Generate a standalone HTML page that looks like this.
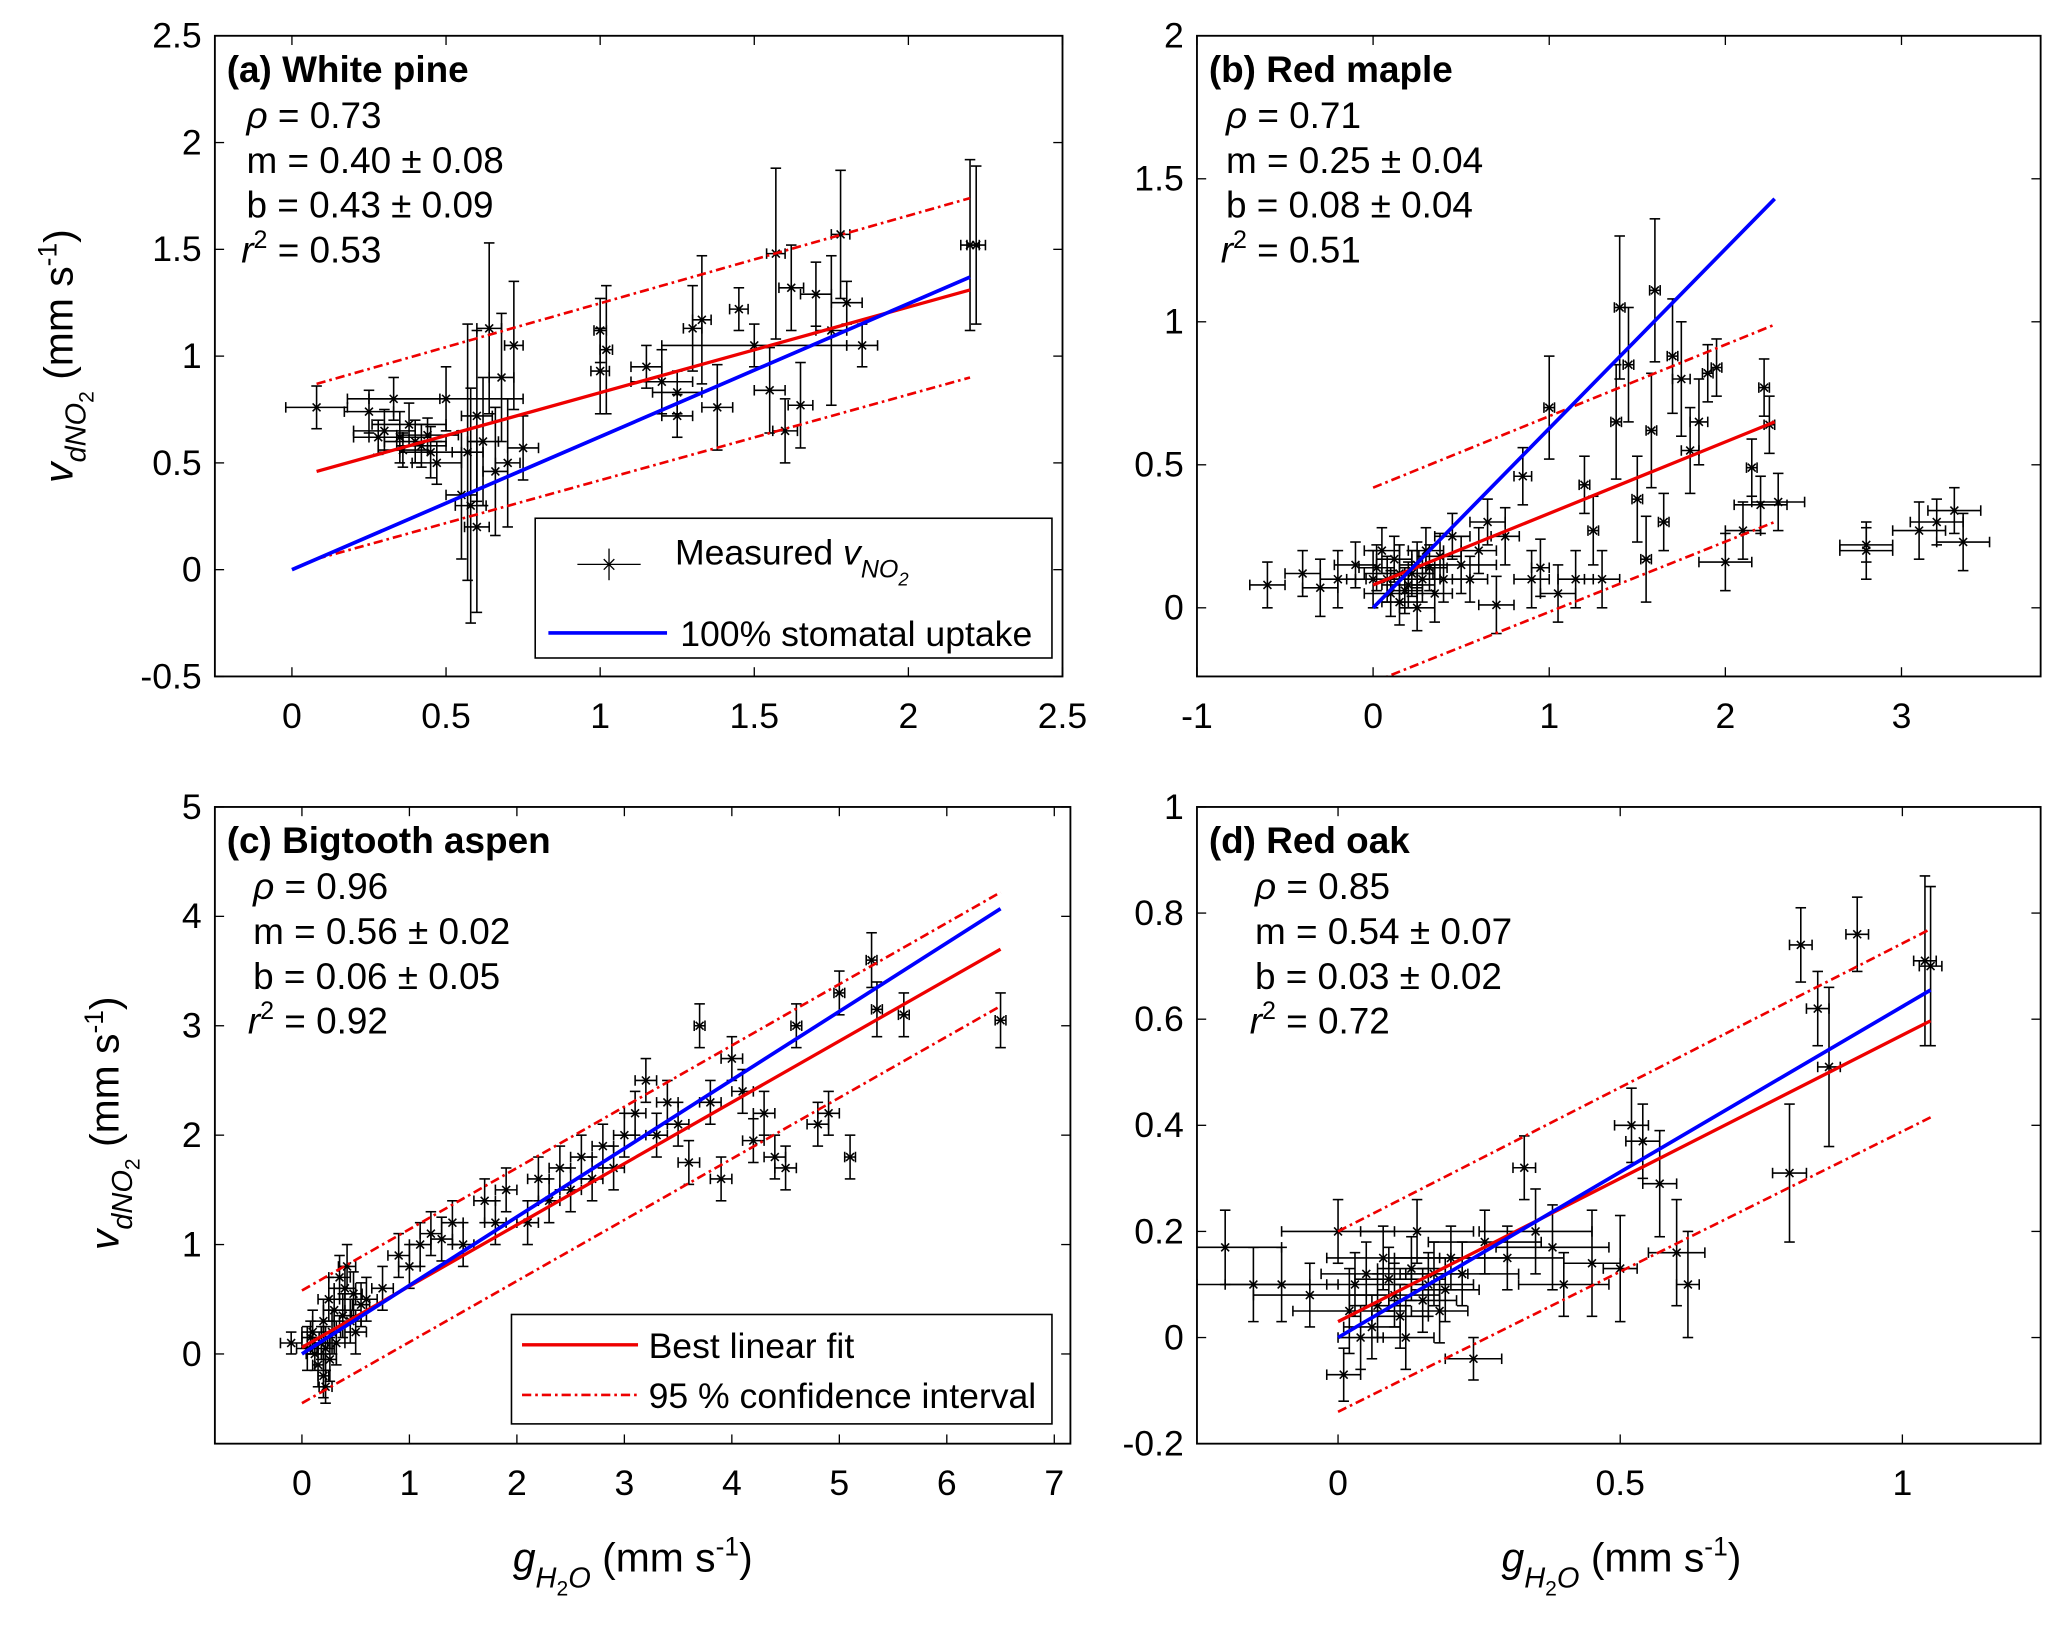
<!DOCTYPE html>
<html><head><meta charset="utf-8">
<style>
html,body{margin:0;padding:0;background:#fff;}
svg{display:block;font-family:"Liberation Sans",Arial,sans-serif;}
</style></head>
<body>
<svg id="fig" width="2067" height="1635" viewBox="0 0 1568 1240" xmlns="http://www.w3.org/2000/svg">
<rect width="1568" height="1240" fill="#fff"/>
<g id="root"></g>
</svg>
<script>
// ---- data (x, y, xerr, yerr) ----
const ptsA = [[0.08,0.76,0.1,0.1],[0.25,0.74,0.08,0.1],[0.3,0.65,0.1,0.1],[0.35,0.62,0.1,0.12],[0.38,0.68,0.12,0.1],[0.4,0.6,0.1,0.1],[0.42,0.58,0.08,0.1],[0.45,0.55,0.1,0.12],[0.47,0.5,0.08,0.1],[0.33,0.8,0.15,0.1],[0.5,0.8,0.25,0.15],[0.28,0.62,0.08,0.08],[0.36,0.56,0.08,0.08],[0.44,0.63,0.1,0.08],[0.55,0.35,0.05,0.3],[0.57,0.55,0.05,0.6],[0.58,0.3,0.05,0.55],[0.6,0.2,0.04,0.4],[0.6,0.72,0.05,0.4],[0.62,0.6,0.05,0.3],[0.64,1.13,0.04,0.4],[0.66,0.46,0.04,0.3],[0.68,0.9,0.04,0.3],[0.7,0.5,0.04,0.3],[0.72,1.05,0.03,0.3],[0.75,0.57,0.05,0.15],[1.0,1.12,0.02,0.15],[1.0,0.93,0.03,0.2],[1.02,1.03,0.02,0.3],[1.15,0.95,0.05,0.1],[1.2,0.88,0.1,0.15],[1.25,0.83,0.08,0.1],[1.25,0.72,0.05,0.1],[1.3,1.13,0.03,0.2],[1.33,1.17,0.03,0.3],[1.38,0.76,0.05,0.2],[1.45,1.22,0.03,0.1],[1.5,1.05,0.3,0.1],[1.55,0.84,0.05,0.2],[1.57,1.48,0.03,0.4],[1.6,0.65,0.04,0.15],[1.62,1.32,0.04,0.2],[1.65,0.77,0.04,0.2],[1.7,1.29,0.05,0.15],[1.75,1.12,0.05,0.35],[1.78,1.57,0.03,0.3],[1.8,1.25,0.05,0.1],[1.85,1.05,0.05,0.1],[2.2,1.52,0.03,0.4],[2.22,1.52,0.03,0.37]];
const ptsB = [[-0.6,0.08,0.1,0.08],[-0.4,0.12,0.1,0.08],[-0.3,0.07,0.1,0.1],[-0.2,0.1,0.1,0.1],[-0.1,0.15,0.12,0.08],[0,0.1,0.15,0.1],[0.05,0.2,0.1,0.08],[0.1,0.05,0.15,0.08],[0.15,0.12,0.2,0.1],[0.2,0.08,0.15,0.08],[0.25,0.15,0.1,0.08],[0.3,0.2,0.1,0.08],[0.35,0.05,0.1,0.1],[0.4,0.1,0.15,0.08],[0.45,0.25,0.1,0.08],[0.5,0.15,0.2,0.1],[0.55,0.1,0.1,0.08],[0.6,0.2,0.1,0.08],[0.65,0.3,0.1,0.08],[0.7,0.01,0.1,0.1],[0.75,0.25,0.08,0.1],[0.02,0.14,0.1,0.08],[0.08,0.1,0.12,0.08],[0.12,0.17,0.1,0.08],[0.18,0.06,0.1,0.08],[0.22,0.12,0.12,0.08],[0.28,0.1,0.1,0.08],[0.32,0.14,0.1,0.08],[0.38,0.18,0.12,0.08],[0.15,0.02,0.1,0.08],[0.25,0.0,0.1,0.08],[0.85,0.46,0.05,0.1],[0.9,0.1,0.1,0.1],[0.95,0.14,0.05,0.1],[1.0,0.7,0.03,0.18],[1.05,0.05,0.1,0.1],[1.15,0.1,0.1,0.1],[1.2,0.43,0.03,0.1],[1.25,0.27,0.03,0.12],[1.3,0.1,0.1,0.1],[1.4,1.05,0.03,0.25],[1.38,0.65,0.03,0.2],[1.45,0.85,0.03,0.2],[1.5,0.38,0.03,0.15],[1.55,0.17,0.03,0.15],[1.58,0.62,0.03,0.2],[1.6,1.11,0.03,0.25],[1.65,0.3,0.03,0.1],[1.7,0.88,0.03,0.2],[1.75,0.8,0.05,0.2],[1.8,0.55,0.05,0.15],[1.85,0.65,0.05,0.15],[1.9,0.82,0.03,0.1],[1.95,0.84,0.03,0.1],[2.0,0.16,0.15,0.1],[2.1,0.27,0.1,0.1],[2.15,0.49,0.03,0.1],[2.2,0.36,0.15,0.1],[2.22,0.77,0.03,0.1],[2.25,0.64,0.03,0.1],[2.3,0.37,0.15,0.1],[2.8,0.2,0.15,0.1],[2.8,0.22,0.15,0.06],[3.1,0.27,0.15,0.1],[3.2,0.3,0.15,0.08],[3.3,0.34,0.15,0.08],[3.35,0.23,0.15,0.1]];
const ptsC = [[-0.1,0.1,0.1,0.1],[0.05,0.05,0.1,0.2],[0.1,0.2,0.1,0.2],[0.15,-0.1,0.05,0.2],[0.2,0.3,0.1,0.2],[0.2,-0.2,0.05,0.2],[0.25,0.5,0.1,0.2],[0.3,0.4,0.1,0.2],[0.35,0.7,0.1,0.2],[0.4,0.6,0.1,0.2],[0.45,0.3,0.1,0.2],[0.5,0.2,0.1,0.2],[0.08,0.15,0.08,0.15],[0.12,0.0,0.08,0.15],[0.18,0.1,0.08,0.15],[0.22,0.05,0.08,0.2],[0.26,-0.05,0.06,0.2],[0.28,0.2,0.08,0.2],[0.32,0.1,0.08,0.2],[0.38,0.35,0.08,0.2],[0.42,0.8,0.08,0.2],[0.48,0.55,0.08,0.2],[0.55,0.45,0.08,0.2],[0.22,-0.3,0.06,0.15],[0.6,0.5,0.1,0.2],[0.75,0.6,0.1,0.2],[0.9,0.9,0.1,0.2],[1.0,0.8,0.1,0.2],[1.1,1.0,0.1,0.2],[1.3,1.05,0.1,0.2],[1.2,1.1,0.1,0.2],[1.4,1.2,0.1,0.2],[1.5,1.0,0.1,0.2],[1.7,1.4,0.1,0.2],[1.8,1.2,0.1,0.2],[1.9,1.5,0.1,0.2],[2.1,1.2,0.1,0.2],[2.2,1.6,0.1,0.2],[2.3,1.4,0.1,0.2],[2.4,1.7,0.1,0.2],[2.5,1.5,0.1,0.2],[2.6,1.8,0.1,0.2],[2.7,1.6,0.1,0.2],[2.8,1.9,0.1,0.2],[2.9,1.7,0.1,0.2],[3.0,2.0,0.1,0.2],[3.1,2.2,0.1,0.2],[3.2,2.5,0.1,0.2],[3.3,2.0,0.1,0.2],[3.4,2.3,0.1,0.2],[3.5,2.1,0.1,0.2],[3.6,1.75,0.1,0.2],[3.7,3.0,0.05,0.2],[3.8,2.3,0.1,0.2],[3.9,1.6,0.1,0.2],[4.0,2.7,0.1,0.2],[4.1,2.4,0.1,0.2],[4.2,1.95,0.1,0.2],[4.3,2.2,0.1,0.2],[4.4,1.8,0.1,0.2],[4.5,1.7,0.1,0.2],[4.6,3.0,0.05,0.2],[4.8,2.1,0.1,0.2],[4.9,2.2,0.1,0.2],[5.0,3.3,0.05,0.2],[5.1,1.8,0.05,0.2],[5.3,3.6,0.05,0.25],[5.35,3.15,0.05,0.25],[5.6,3.1,0.05,0.2],[6.5,3.05,0.05,0.25]];
const ptsD = [[-0.2,0.17,0.1,0.07],[-0.15,0.1,0.1,0.07],[-0.1,0.1,0.1,0.07],[-0.05,0.08,0.1,0.06],[0,0.2,0.1,0.06],[0.01,-0.07,0.03,0.05],[0.02,0.05,0.1,0.08],[0.05,0.12,0.08,0.06],[0.06,0.02,0.05,0.06],[0.08,0.15,0.1,0.06],[0.1,0.08,0.08,0.06],[0.12,0.0,0.05,0.06],[0.03,0.1,0.05,0.06],[0.04,0.0,0.04,0.06],[0.07,0.06,0.05,0.06],[0.09,0.11,0.06,0.06],[0.11,0.04,0.05,0.06],[0.13,0.13,0.06,0.06],[0.15,0.07,0.06,0.06],[0.17,0.12,0.06,0.06],[0.19,0.09,0.06,0.06],[0.14,0.2,0.1,0.06],[0.16,0.1,0.08,0.06],[0.18,0.05,0.05,0.06],[0.2,0.15,0.1,0.06],[0.22,0.12,0.1,0.06],[0.24,-0.04,0.05,0.04],[0.26,0.18,0.1,0.06],[0.3,0.15,0.1,0.06],[0.33,0.32,0.02,0.06],[0.35,0.2,0.1,0.08],[0.38,0.17,0.1,0.08],[0.4,0.1,0.08,0.06],[0.45,0.14,0.05,0.1],[0.5,0.13,0.03,0.1],[0.52,0.4,0.03,0.07],[0.54,0.37,0.03,0.07],[0.57,0.29,0.03,0.1],[0.6,0.16,0.05,0.1],[0.62,0.1,0.02,0.1],[0.8,0.31,0.03,0.13],[0.82,0.74,0.02,0.07],[0.85,0.62,0.02,0.07],[0.87,0.51,0.02,0.15],[0.92,0.76,0.02,0.07],[1.04,0.71,0.02,0.16],[1.05,0.7,0.02,0.15]];
// lines: [x0,y0,x1,y1]
const blueA=[0,0,2.2,1.37], fitA=[0.08,0.46,2.2,1.31], ciUA=[0.08,0.87,2.2,1.74], ciLA=[0.08,0.05,2.2,0.9];
const blueB=[0,0,2.28,1.43], fitB=[0,0.08,2.28,0.65], ciUB=[0,0.42,2.28,0.99], ciLB=[0,-0.26,2.28,0.3];
const blueC=[0,0,6.5,4.07], fitC=[0,0.06,6.5,3.7], ciUC=[0,0.58,6.5,4.22], ciLC=[0,-0.45,6.5,3.18];
const blueD=[0,0,1.05,0.655], fitD=[0,0.03,1.05,0.597], ciUD=[0,0.2,1.05,0.77], ciLD=[0,-0.14,1.05,0.415];
const xTicksA=[0,0.5,1,1.5,2,2.5], yTicksA=[-0.5,0,0.5,1,1.5,2,2.5];
const xTicksB=[-1,0,1,2,3], yTicksB=[0,0.5,1,1.5,2];
const xTicksC=[0,1,2,3,4,5,6,7], yTicksC=[0,1,2,3,4,5];
const xTicksD=[0,0.5,1], yTicksD=[-0.2,0,0.2,0.4,0.6,0.8,1];
const statsA=["0.73","0.40 ± 0.08","0.43 ± 0.09","0.53"];
const statsB=["0.71","0.25 ± 0.04","0.08 ± 0.04","0.51"];
const statsC=["0.96","0.56 ± 0.02","0.06 ± 0.05","0.92"];
const statsD=["0.85","0.54 ± 0.07","0.03 ± 0.02","0.72"];

const NS="http://www.w3.org/2000/svg";
const root=document.getElementById('root');
function mk(tag,attrs,parent){const e=document.createElementNS(NS,tag);for(const k in attrs)e.setAttribute(k,attrs[k]);(parent||root).appendChild(e);return e;}

function panel(cfg){
  const g=mk('g',{});
  
  
  const {L,R,T,B,xmin,xmax,ymin,ymax}=cfg;
  const sx=v=>L+(v-xmin)/(xmax-xmin)*(R-L);
  const sy=v=>B-(v-ymin)/(ymax-ymin)*(B-T);
  const clipId='clip'+cfg.id;
  const cp=mk('clipPath',{id:clipId},g);mk('rect',{x:L,y:T,width:R-L,height:B-T},cp);
  const plot=mk('g',{'clip-path':'url(#'+clipId+')'},g);
  cfg.pts.forEach(p=>{
    const pg=mk('g',{stroke:'#000','stroke-width':1.2,fill:'none'},plot);
    
    
    const x=sx(p[0]),y=sy(p[1]),x1=sx(p[0]-p[2]),x2=sx(p[0]+p[2]),y1=sy(p[1]-p[3]),y2=sy(p[1]+p[3]);
    mk('line',{x1:x1,y1:y,x2:x2,y2:y},pg);
    mk('line',{x1:x,y1:y1,x2:x,y2:y2},pg);
    mk('line',{x1:x1,y1:y-4,x2:x1,y2:y+4},pg);mk('line',{x1:x2,y1:y-4,x2:x2,y2:y+4},pg);
    mk('line',{x1:x-4,y1:y1,x2:x+4,y2:y1},pg);mk('line',{x1:x-4,y1:y2,x2:x+4,y2:y2},pg);
    mk('line',{x1:x-3,y1:y-3,x2:x+3,y2:y+3},pg);mk('line',{x1:x-3,y1:y+3,x2:x+3,y2:y-3},pg);
  });
  const line=(a,col,dash,nm,w)=>{const l=mk('line',{x1:sx(a[0]),y1:sy(a[1]),x2:sx(a[2]),y2:sy(a[3]),stroke:col,'stroke-width':w,'stroke-dasharray':dash||'none'},plot);};
  line(cfg.ciU,'#e00','7,3,2,3','ci-upper',2);
  line(cfg.ciL,'#e00','7,3,2,3','ci-lower',2);
  line(cfg.fit,'#e00',null,'best-fit-line',2.5);
  line(cfg.blue,'#00f',null,'stomatal-line',2.8);
  const fr=mk('rect',{x:L,y:T,width:R-L,height:B-T,fill:'none',stroke:'#000','stroke-width':1.4},g);
  
  cfg.xt.forEach(v=>{const x=sx(v);mk('line',{x1:x,y1:B,x2:x,y2:B-7,stroke:'#000'},g);mk('line',{x1:x,y1:T,x2:x,y2:T+7,stroke:'#000'},g);
    const t=mk('text',{x:x,y:B+39,'font-size':27,'text-anchor':'middle'},g);t.textContent=String(v);});
  cfg.yt.forEach(v=>{const y=sy(v);mk('line',{x1:L,y1:y,x2:L+7,y2:y,stroke:'#000'},g);mk('line',{x1:R,y1:y,x2:R-7,y2:y,stroke:'#000'},g);
    const t=mk('text',{x:L-10,y:y+9,'font-size':27,'text-anchor':'end'},g);t.textContent=String(v);});
  const tt=mk('text',{x:L+9,y:T+35,'font-size':28,'font-weight':'bold'},g);
  tt.textContent=cfg.title;
  const sxp=cfg.statX, labels=['ρ = ','m = ','b = ',''];
  cfg.stats.forEach((s,i)=>{const t=mk('text',{x:sxp+(i==3?-4:0),y:T+70+i*34,'font-size':28},g);
    
    if(i==0){t.innerHTML='<tspan font-style="italic">ρ</tspan> = '+s;}
    else if(i==3){t.innerHTML='<tspan font-style="italic">r</tspan><tspan dy="-11" font-size="19">2</tspan><tspan dy="11"> = '+s+'</tspan>';}
    else t.textContent=labels[i]+s;});
  return g;
}
panel({id:'a',name:'panel-white-pine',L:163,R:806,T:27,B:513,xmin:-0.25,xmax:2.5,ymin:-0.5,ymax:2.5,pts:ptsA,blue:blueA,fit:fitA,ciU:ciUA,ciL:ciLA,xt:xTicksA,yt:yTicksA,title:'(a) White pine',stats:statsA,statX:187});
panel({id:'b',name:'panel-red-maple',L:908,R:1548,T:27,B:513,xmin:-1,xmax:3.79,ymin:-0.24,ymax:2,pts:ptsB,blue:blueB,fit:fitB,ciU:ciUB,ciL:ciLB,xt:xTicksB,yt:yTicksB,title:'(b) Red maple',stats:statsB,statX:930});
panel({id:'c',name:'panel-bigtooth-aspen',L:163,R:812,T:612,B:1095,xmin:-0.81,xmax:7.15,ymin:-0.82,ymax:5,pts:ptsC,blue:blueC,fit:fitC,ciU:ciUC,ciL:ciLC,xt:xTicksC,yt:yTicksC,title:'(c) Bigtooth aspen',stats:statsC,statX:192});
panel({id:'d',name:'panel-red-oak',L:908,R:1548,T:612,B:1095,xmin:-0.25,xmax:1.245,ymin:-0.2,ymax:1,pts:ptsD,blue:blueD,fit:fitD,ciU:ciUD,ciL:ciLD,xt:xTicksD,yt:yTicksD,title:'(d) Red oak',stats:statsD,statX:952});

const lg1=mk('g',{});
mk('rect',{x:406,y:393,width:392,height:106,fill:'#fff',stroke:'#000','stroke-width':1.2},lg1);
mk('line',{x1:438,y1:428,x2:486,y2:428,stroke:'#000'},lg1);mk('line',{x1:462,y1:416,x2:462,y2:440,stroke:'#000'},lg1);
mk('line',{x1:458,y1:424,x2:466,y2:432,stroke:'#000'},lg1);mk('line',{x1:458,y1:432,x2:466,y2:424,stroke:'#000'},lg1);
let t=mk('text',{x:512,y:428,'font-size':27},lg1);t.innerHTML='Measured <tspan font-style="italic">v</tspan><tspan dy="10" font-size="19" font-style="italic">NO</tspan><tspan dy="6" font-size="14" font-style="italic">2</tspan>';
mk('line',{x1:416,y1:480,x2:506,y2:480,stroke:'#00f','stroke-width':2.8},lg1);
t=mk('text',{x:516,y:490,'font-size':27},lg1);t.textContent='100% stomatal uptake';
const lg2=mk('g',{});
mk('rect',{x:388,y:997,width:410,height:83,fill:'#fff',stroke:'#000','stroke-width':1.2},lg2);
mk('line',{x1:396,y1:1020,x2:484,y2:1020,stroke:'#e00','stroke-width':2.5},lg2);
t=mk('text',{x:492,y:1030,'font-size':27},lg2);t.textContent='Best linear fit';
mk('line',{x1:396,y1:1058,x2:484,y2:1058,stroke:'#e00','stroke-width':2,'stroke-dasharray':'7,3,2,3'},lg2);
t=mk('text',{x:492,y:1068,'font-size':27},lg2);t.textContent='95 % confidence interval';
function ylab(cx,cy){const e=mk('text',{transform:'translate('+cx+','+cy+') rotate(-90)','font-size':31,'text-anchor':'middle'});
 
 e.innerHTML='<tspan font-style="italic">v</tspan><tspan dy="10" font-size="22" font-style="italic">dNO</tspan><tspan dy="6" font-size="16">2</tspan><tspan dy="-16"> (mm s</tspan><tspan dy="-12" font-size="20">-1</tspan><tspan dy="12">)</tspan>';}
ylab(55,270);ylab(90,852);
function xlab(cx,cy){const e=mk('text',{x:cx,y:cy,'font-size':31,'text-anchor':'middle'});
 
 e.innerHTML='<tspan font-style="italic">g</tspan><tspan dy="12" font-size="22" font-style="italic">H</tspan><tspan dy="6" font-size="16">2</tspan><tspan dy="-6" font-size="22" font-style="italic">O</tspan><tspan dy="-12"> (mm s</tspan><tspan dy="-12" font-size="20">-1</tspan><tspan dy="12">)</tspan>';}
xlab(480,1192);xlab(1230,1192);
</script>
</body></html>
